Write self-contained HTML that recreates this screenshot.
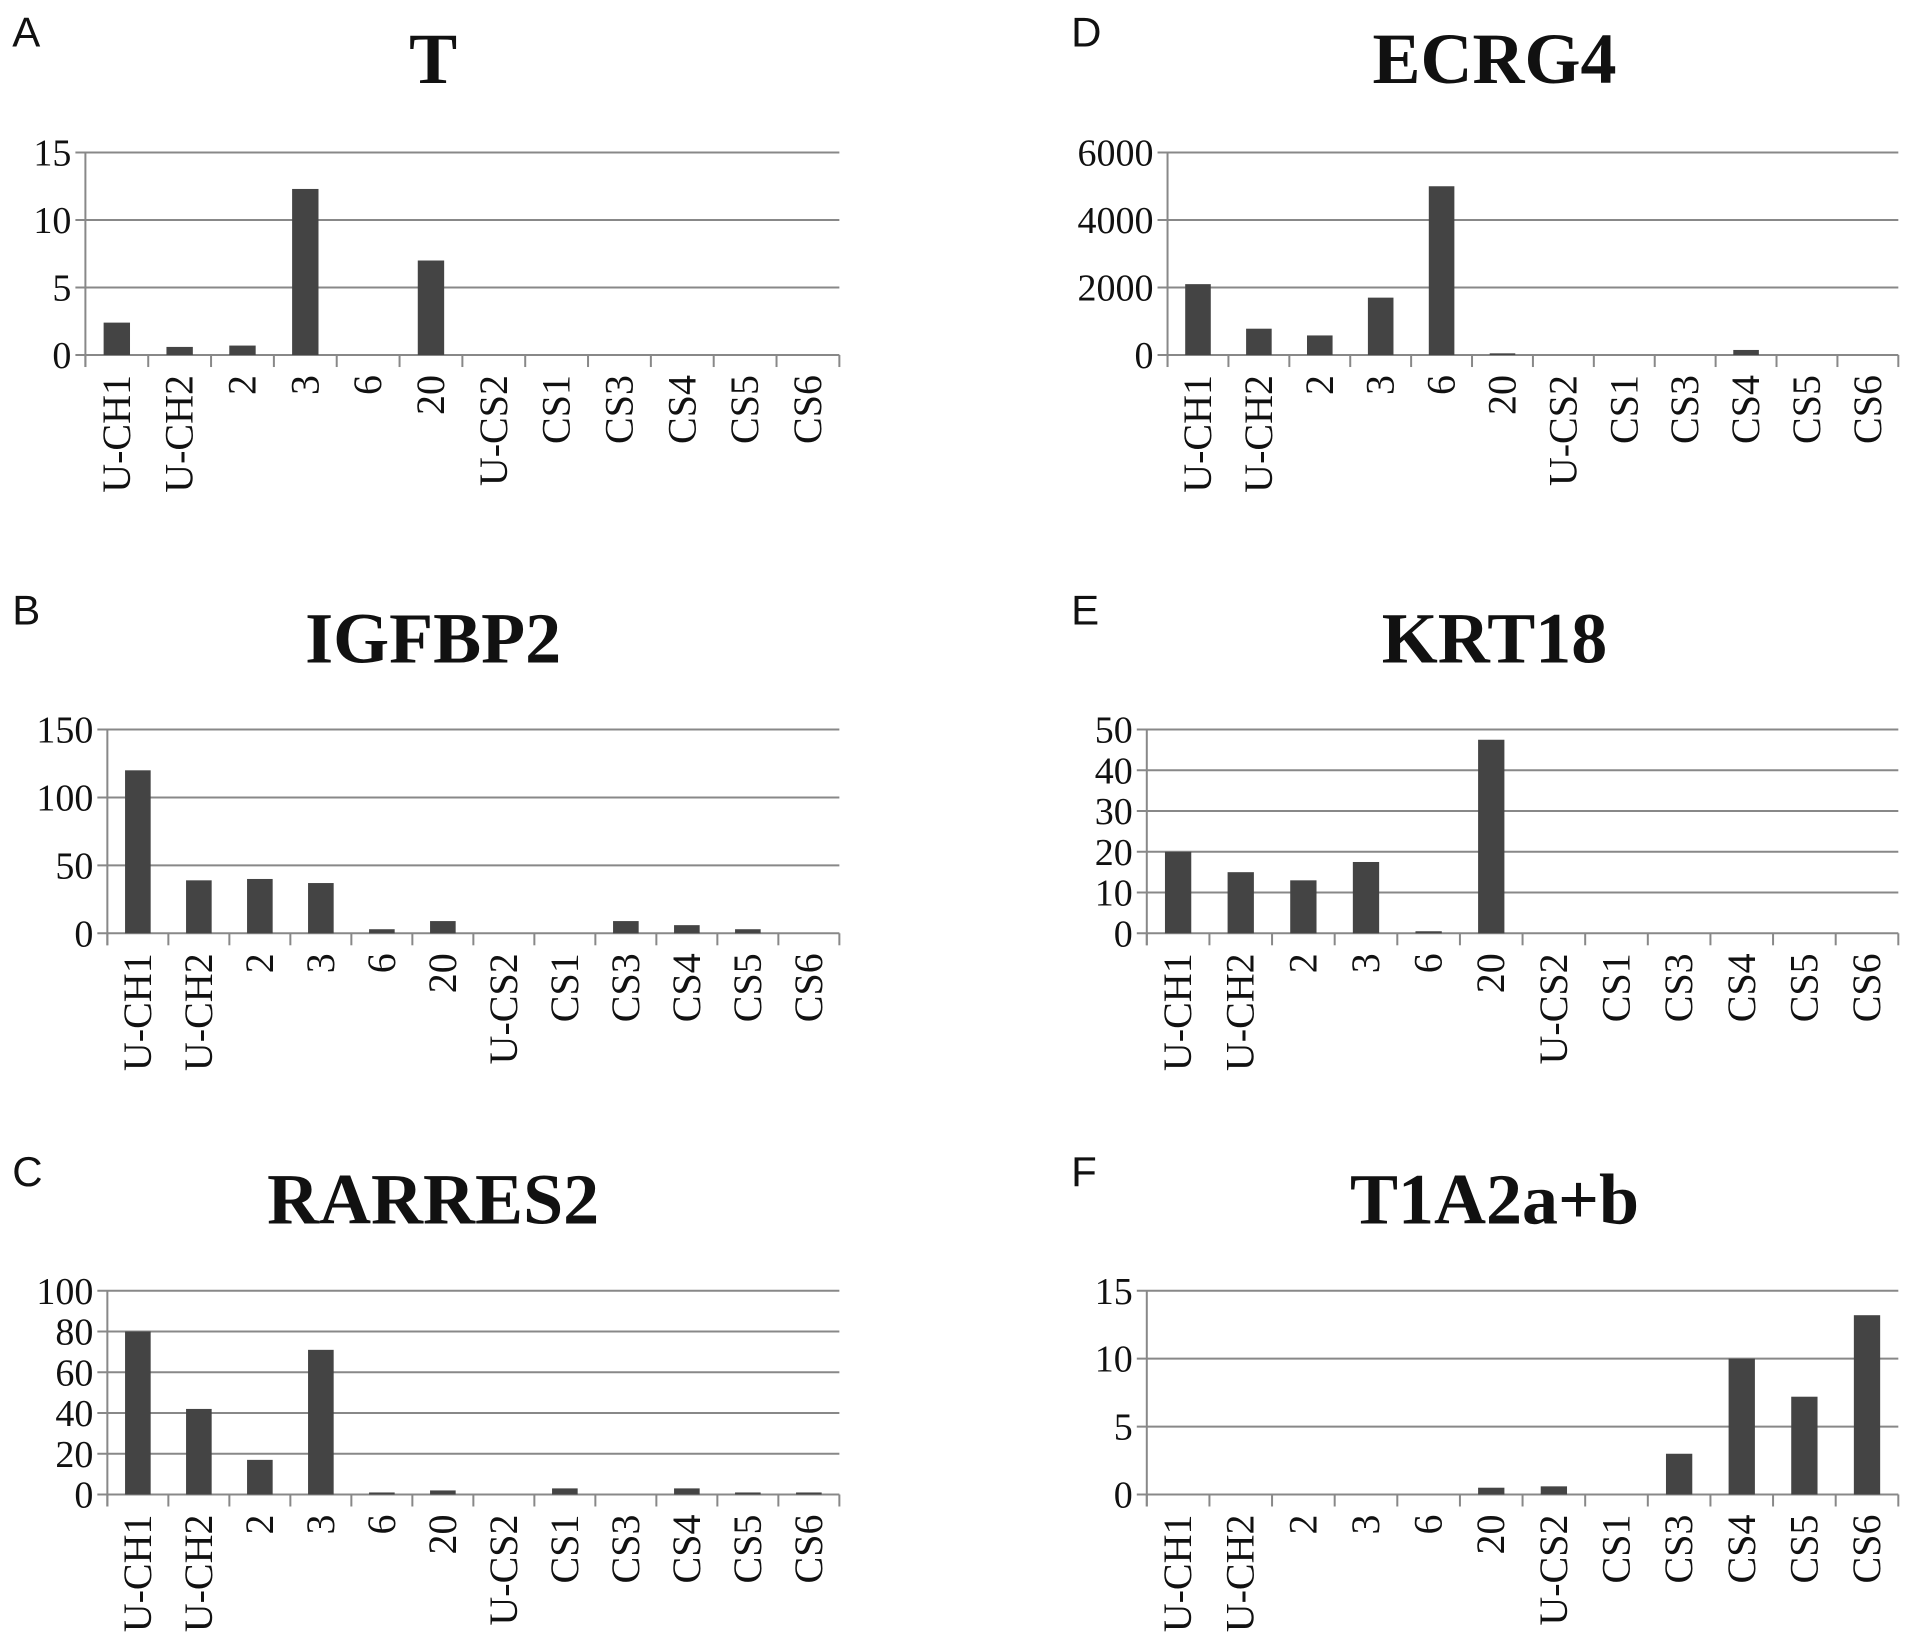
<!DOCTYPE html>
<html><head><meta charset="utf-8"><style>
body{margin:0;background:#fff}
svg{display:block}
</style></head><body>
<svg id="fig" width="1913" height="1650" viewBox="0 0 1913 1650" xmlns="http://www.w3.org/2000/svg"></svg>
<script>
const categories = ["U-CH1","U-CH2","2","3","6","20","U-CS2","CS1","CS3","CS4","CS5","CS6"];
const valuesT = [2.4,0.6,0.7,12.3,0,7,0,0,0,0,0,0];
const valuesIGFBP2 = [120,39,40,37,3,9,0,0,9,6,3,0];
const valuesRARRES2 = [80,42,17,71,1,2,0,3,0,3,1,1];
const valuesECRG4 = [2100,780,580,1700,5000,50,0,0,0,150,0,0];
const valuesKRT18 = [20,15,13,17.5,0.5,47.5,0,0,0,0,0,0];
const valuesT1A2 = [0,0,0,0,0,0.5,0.6,0,3,10,7.2,13.2];
const ticksT = [0,5,10,15];
const ticksIGFBP2 = [0,50,100,150];
const ticksRARRES2 = [0,20,40,60,80,100];
const ticksECRG4 = [0,2000,4000,6000];
const ticksKRT18 = [0,10,20,30,40,50];
const ticksT1A2 = [0,5,10,15];

const S = 1.22;
const svg = document.getElementById('fig');
const NS = 'http://www.w3.org/2000/svg';
function mk(tag, attrs, parent){const e=document.createElementNS(NS,tag);for(const k in attrs)e.setAttribute(k,attrs[k]);(parent||svg).appendChild(e);return e;}

function panel(key, letter, title, vals, ticks, x0, x1, yTop, y0, letterX, letterY, titleX, titleY){
  x0*=S;x1*=S;yTop*=S;y0*=S;
  const g = mk('g',{});
  
  
  const maxV = ticks[ticks.length-1];
  const yScale = v => y0 - (v/maxV)*(y0-yTop);
  const n = categories.length;
  const slot = (x1-x0)/n;
  const xScale = i => x0 + slot*(i+0.5);
  const L = mk('text',{x:letterX*S,y:letterY*S,'font-family':'Liberation Sans, sans-serif','font-size':42,fill:'#111'},g);
  L.textContent = letter;
  
  
  const T = mk('text',{x:titleX*S,y:titleY*S,'text-anchor':'middle','font-family':'Liberation Serif, serif','font-weight':'bold','font-size':72,fill:'#111'},g);
  T.textContent = title;
  
  
  ticks.forEach(t=>{
    const y = yScale(t);
    const ln = mk('line',{x1:x0-10,x2:x1,y1:y,y2:y,stroke:'#888','stroke-width':2},g);
    
    
    const tx = mk('text',{x:x0-14,y:y+13,'text-anchor':'end','font-family':'Liberation Serif, serif','font-size':38,fill:'#111'},g);
    tx.textContent = t;
    
    
  });
  const ax = mk('line',{x1:x0,x2:x0,y1:yTop,y2:y0+12,stroke:'#888','stroke-width':2},g);
  
  
  for(let i=0;i<=n;i++){
    const tk = mk('line',{x1:x0+slot*i,x2:x0+slot*i,y1:y0,y2:y0+12,stroke:'#888','stroke-width':2},g);
    
    
  }
  vals.forEach((v,i)=>{
    const bw = slot*0.42;
    const y = yScale(v);
    const r = mk('rect',{x:xScale(i)-bw/2,y:y,width:bw,height:Math.max(0,y0-y),fill:'#444'},g);
    
    
    const lx = xScale(i)+13, ly = y0+20;
    const lb = mk('text',{x:lx,y:ly,transform:`rotate(-90 ${lx} ${ly})`,'text-anchor':'end','font-family':'Liberation Serif, serif','font-size':40,fill:'#111'},g);
    lb.textContent = categories[i];
    
    
  });
}
panel('t','A','T',valuesT,ticksT,70,688,125,291,10,38,355,68);
panel('igfbp2','B','IGFBP2',valuesIGFBP2,ticksIGFBP2,88,688,598,765,10,512,355,543);
panel('rarres2','C','RARRES2',valuesRARRES2,ticksRARRES2,88,688,1058,1225,10,972,355,1003);
panel('ecrg4','D','ECRG4',valuesECRG4,ticksECRG4,957,1556,125,291,878,38,1225,68);
panel('krt18','E','KRT18',valuesKRT18,ticksKRT18,940,1556,598,765,878,512,1225,543);
panel('t1a2','F','T1A2a+b',valuesT1A2,ticksT1A2,940,1556,1058,1225,878,972,1225,1003);
</script>
</body></html>
